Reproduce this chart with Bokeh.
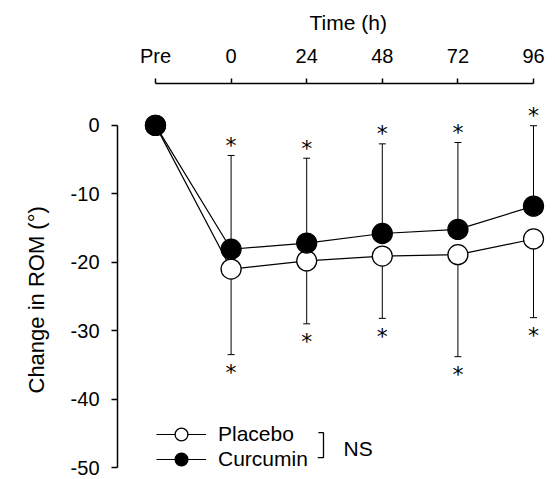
from bokeh.plotting import figure
from bokeh.models import (Range1d, FixedTicker, Whisker, TeeHead, ColumnDataSource,
                          Label, Legend, LegendItem, Title)
from bokeh.embed import file_html
from bokeh.resources import INLINE
from bokeh.core.properties import value

# ---- data ----
time_labels = ["Pre", "0", "24", "48", "72", "96"]
time_pos = [-24, 0, 24, 48, 72, 96]
placebo = [0.0, -21.0, -19.8, -19.1, -18.9, -16.6]
curcumin = [0.0, -18.1, -17.2, -15.8, -15.2, -11.8]
curcumin_sd = [0.0, 13.7, 12.4, 13.1, 12.7, 11.75]
placebo_sd = [0.0, 12.5, 9.2, 9.1, 14.9, 11.5]
y_ticks = [0, -10, -20, -30, -40, -50]
y_tick_labels = ["0", "-10", "-20", "-30", "-40", "-50"]

FONT = "Liberation Sans"
FS = "20px"

p = figure(width=555, height=479, output_backend="svg", toolbar_location=None,
           x_range=Range1d(-36.06, 102.98), y_range=Range1d(-51.75, 6.12),
           x_axis_location="above",
           min_border_left=117, min_border_top=82, min_border_right=0, min_border_bottom=0)
p.outline_line_color = None
p.xgrid.visible = False
p.ygrid.visible = False
p.background_fill_color = "white"

# top axis
xa = p.xaxis[0]
xa.ticker = FixedTicker(ticks=time_pos)
xa.major_label_overrides = {t: l for t, l in zip(time_pos, time_labels)}
xa.bounds = (time_pos[0], time_pos[-1])
xa.major_tick_out = 5
xa.major_tick_in = 0
xa.minor_tick_out = 0
xa.minor_tick_in = 0
xa.axis_line_width = 1.5
xa.major_tick_line_width = 1.5
xa.major_label_standoff = 12
xa.major_label_text_font = FONT
xa.major_label_text_font_size = FS
xa.major_label_text_color = "black"

# left axis
ya = p.yaxis[0]
ya.ticker = FixedTicker(ticks=y_ticks)
ya.major_label_overrides = {t: l for t, l in zip(y_ticks, y_tick_labels)}
ya.bounds = (y_ticks[-1], y_ticks[0])
ya.major_tick_out = 6
ya.major_tick_in = 0
ya.minor_tick_out = 0
ya.minor_tick_in = 0
ya.axis_line_width = 1.5
ya.major_tick_line_width = 1.5
ya.major_label_standoff = 12
ya.major_label_text_font = FONT
ya.major_label_text_font_size = FS
ya.major_label_text_color = "black"

# axis titles (as side-panel titles so they can be offset)
t_top = Title(text="Time (h)", align="left", offset=192, standoff=16,
              text_font=FONT, text_font_size="21px", text_font_style="normal",
              text_color="black")
p.add_layout(t_top, "above")
t_left = Title(text="Change in  ROM (°)", align="left", offset=86, standoff=38,
               text_font=FONT, text_font_size="22px", text_font_style="normal",
               text_color="black")
p.add_layout(t_left, "left")

src = ColumnDataSource(dict(t=time_pos, pl=placebo, cu=curcumin))

# error bars: curcumin upward, placebo downward
post_t = time_pos[1:]
cu_up = [m + s for m, s in zip(curcumin[1:], curcumin_sd[1:])]
pl_lo = [m - s for m, s in zip(placebo[1:], placebo_sd[1:])]
err = ColumnDataSource(dict(t=post_t, cu=curcumin[1:], cu_up=cu_up,
                            pl=placebo[1:], pl_lo=pl_lo,
                            star=["*"] * len(post_t)))
w_up = Whisker(source=err, base="t", lower="cu", upper="cu_up", dimension="height",
               line_color="black", line_width=1,
               upper_head=TeeHead(size=7, line_width=1, line_color="black"), lower_head=None,
               level="underlay")
w_lo = Whisker(source=err, base="t", lower="pl_lo", upper="pl", dimension="height",
               line_color="black", line_width=1,
               lower_head=TeeHead(size=7, line_width=1, line_color="black"), upper_head=None,
               level="underlay")
p.add_layout(w_up)
p.add_layout(w_lo)

# significance asterisks
p.text(x="t", y="cu_up", text="star", source=err, text_align="center",
       text_baseline="alphabetic", y_offset=-10, text_font=value("DejaVu Sans"),
       text_font_size="22px", text_color="black")
p.text(x="t", y="pl_lo", text="star", source=err, text_align="center",
       text_baseline="alphabetic", y_offset=18, text_font=value("DejaVu Sans"),
       text_font_size="22px", text_color="black")

# series
l_pl = p.line("t", "pl", source=src, line_color="black", line_width=1.2)
l_cu = p.line("t", "cu", source=src, line_color="black", line_width=1.2)
s_pl = p.scatter("t", "pl", source=src, size=20, marker="circle",
                 fill_color="white", line_color="black", line_width=1.3)
s_cu = p.scatter("t", "cu", source=src, size=20, marker="circle",
                 fill_color="black", line_color="black", line_width=1.3)

common = dict(glyph_width=50, glyph_height=32, spacing=0, padding=0, margin=0,
              label_standoff=12, label_text_font=FONT, label_text_font_size="21px",
              label_text_color="black", label_height=25,
              border_line_color=None, background_fill_alpha=0)
leg1 = Legend(items=[LegendItem(label="Placebo", renderers=[l_pl, s_pl])],
              location=(39, 29), **common)
leg2 = Legend(items=[LegendItem(label="Curcumin", renderers=[l_cu, s_cu])],
              location=(39, 4), **common)
p.add_layout(leg1)
p.add_layout(leg2)

# NS bracket
p.line(x=[27.7, 29.33, 29.33, 27.5], y=[-44.9, -44.9, -48.54, -48.54],
       line_color="black", line_width=1.3)
p.add_layout(Label(x=35.7, y=-47.2, text="NS", text_font=FONT, text_font_size="21px",
                   text_baseline="middle", text_align="left", text_color="black"))

open("out.html", "w").write(file_html(p, INLINE))
